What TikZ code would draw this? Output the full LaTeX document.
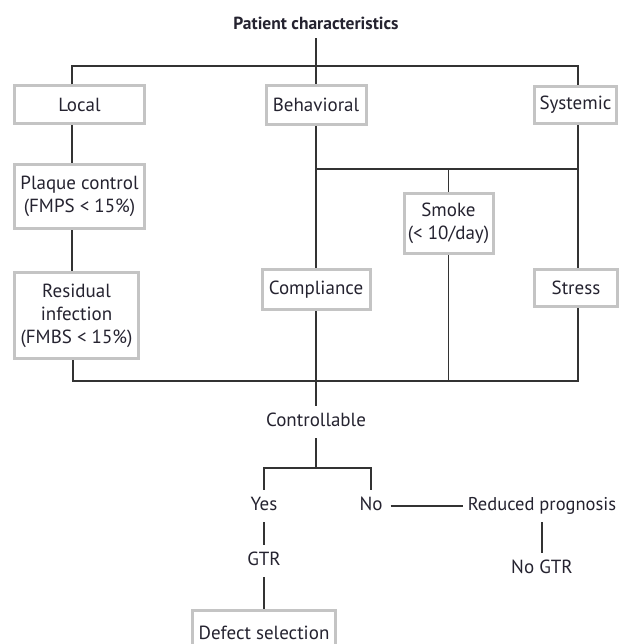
\documentclass[tikz,border=0pt]{standalone}
\usepackage{fontspec}
\setmainfont{PT Sans}
\definecolor{lineC}{HTML}{333333}
\definecolor{boxC}{HTML}{C4C4C4}
\definecolor{txtC}{HTML}{252330}
\begin{document}
\begin{tikzpicture}[x=1pt,y=-1pt,
  every node/.style={text=txtC},
  conn/.style={draw=lineC, line width=1.3pt},
  gbox/.style={draw=boxC, line width=3pt, fill=white, rectangle, align=center, inner sep=2pt,
     font=\fontsize{19}{23}\selectfont},
  lbl/.style={inner xsep=8pt, inner ysep=8pt, text height=12pt, text depth=4pt,
     font=\fontsize{19}{23}\selectfont}
]
\clip (0,0) rectangle (620,644);
\fill[white] (0,0) rectangle (620,644);

% title
\node[inner xsep=0pt, inner ysep=8pt, text height=12pt, text depth=0pt,
      font=\fontsize{17.5}{20}\selectfont\bfseries] (pc) at (316,24) {Patient characteristics};

% level-1 boxes
\node[gbox, minimum width=130pt, minimum height=38pt] (local) at (79.5,105) {Local};
\node[gbox, minimum width=100pt, minimum height=39pt] (beh) at (316,105) {Behavioral};
\node[gbox, minimum width=82pt, minimum height=37pt] (sys) at (575.5,105) {Systemic};

% left column
\node[gbox, minimum width=130pt, minimum height=64pt] (plaque) at (79.5,196.5) {Plaque control\\(FMPS < 15\%)};
\node[gbox, minimum width=124pt, minimum height=86pt] (resid) at (76.5,315.5) {Residual\\infection\\(FMBS < 15\%)};

% middle / right
\node[gbox, minimum width=89pt, minimum height=60pt] (smoke) at (448.5,223.5) {Smoke\\(< 10/day)};
\node[gbox, minimum width=108pt, minimum height=40pt] (comp) at (316,289.5) {Compliance};
\node[gbox, minimum width=83pt, minimum height=37pt] (stress) at (576,288) {Stress};

% lower labels
\node[lbl] (ctrl) at (316,422) {Controllable};
\node[lbl] (yes) at (264,506) {Yes};
\node[lbl] (no) at (371,506) {No};
\node[lbl, inner xsep=5pt, font=\fontsize{18.5}{23}\selectfont] (red) at (542,506) {Reduced prognosis};
\node[lbl] (nogtr) at (542,569) {No GTR};
\node[lbl] (gtr) at (264,561) {GTR};
\node[gbox, minimum width=143pt, minimum height=46pt, anchor=north] (defect) at (264,608.5) {Defect selection};

% coordinates for bus lines
\coordinate (L) at (72,66);
\coordinate (T) at (316,66);
\coordinate (R) at (578,66);
\coordinate (M1) at (316,169);
\coordinate (M2) at (578,169);
\coordinate (B1) at (73,381);
\coordinate (B2) at (578,381);
\coordinate (J) at (316,468);

% top bus
\draw[conn] (pc.south) -- (T);
\draw[conn] (local.north -| L) -- (L) -- (R) -- (sys.north -| R);
\draw[conn] (T) -- (beh.north);

% left chain
\draw[conn] (local.south -| L) -- (plaque.north -| L);
\draw[conn] (plaque.south -| L) -- (resid.north -| L);

% behavioral / systemic
\draw[conn] (beh.south) -- (comp.north);
\draw[conn] (M1) -- (M2);
\draw[conn] (sys.south -| R) -- (stress.north -| R);
\draw[conn] (smoke.north) -- (smoke.north |- M1);

% bottom bus
\draw[conn] (resid.south -| B1) -- (B1) -- (B2) -- (stress.south -| B2);
\draw[conn] (smoke.south) -- (smoke.south |- B1);
\draw[conn] (comp.south) -- (ctrl.north);

% decision
\draw[conn] (ctrl.south) -- (J);
\draw[conn] (yes.north) -- (yes.north |- J) -- (no.north |- J) -- (no.north);
\draw[conn] (no.east) -- (red.west);
\draw[conn] (red.south) -- (nogtr.north);
\draw[conn] (yes.south) -- (gtr.north);
\draw[conn] (gtr.south) -- (defect.north);
\end{tikzpicture}
\end{document}
